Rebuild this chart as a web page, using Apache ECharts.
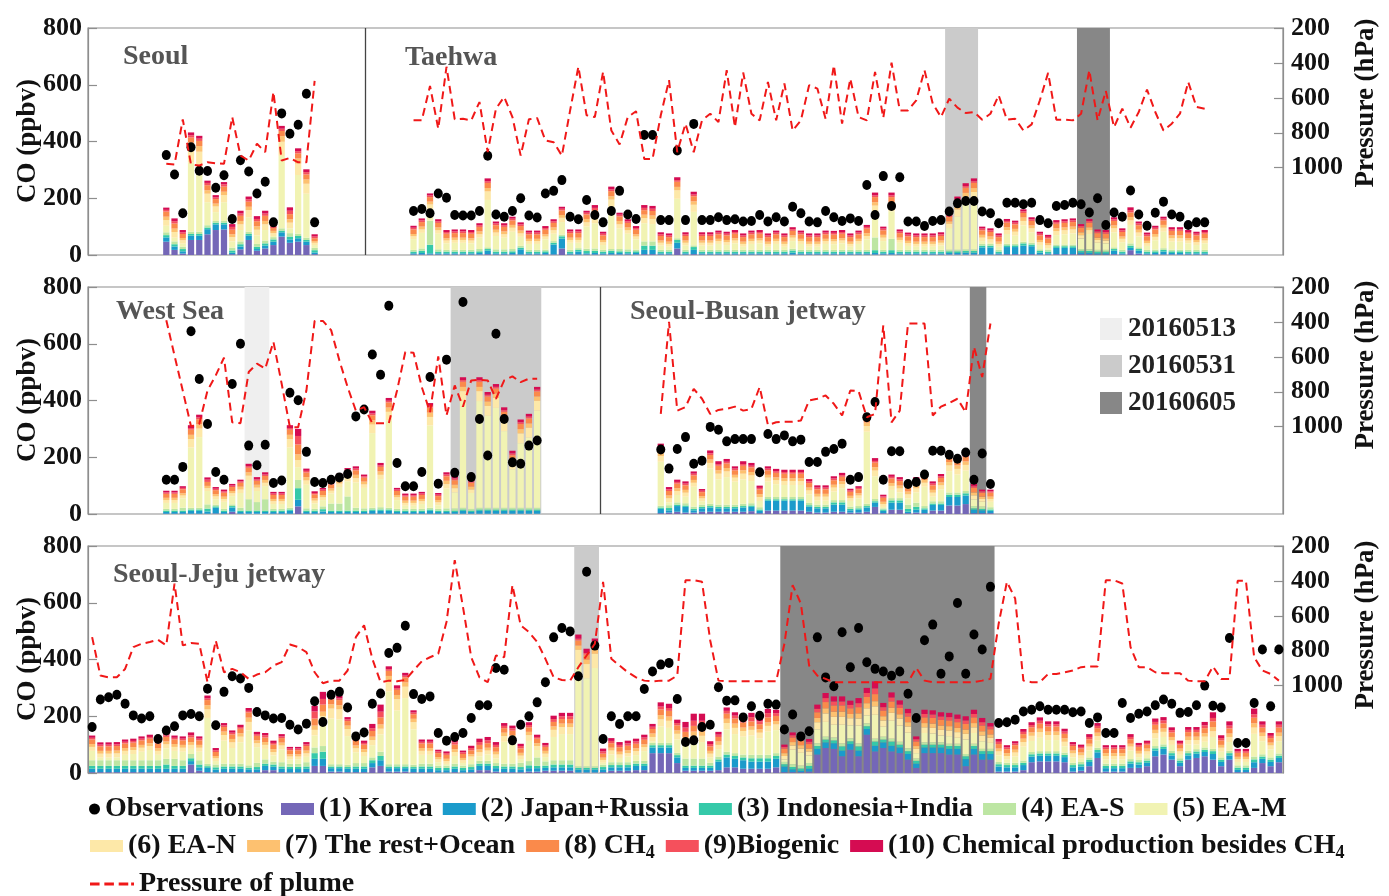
<!DOCTYPE html>
<html><head><meta charset="utf-8">
<script src="https://cdn.jsdelivr.net/npm/echarts@6/dist/echarts.min.js"></script>
<style>html,body{margin:0;padding:0;background:#fff}#c{width:1389px;height:896px}</style>
</head><body><div id="c"></div>
<script>
// ---------------- Source names & colours ----------------
const SOURCE_NAMES = ['(1) Korea','(2) Japan+Russia','(3) Indonesia+India','(4) EA-S','(5) EA-M',
  '(6) EA-N','(7) The rest+Ocean','(8) CH4','(9)Biogenic','(10) Chemical production besides CH4'];
const SOURCE_COLORS = ['#7467b7','#1b9bcb','#35c9a9','#bde6a3','#f1f3b3','#fde8a8','#fdc170','#fa8a4b','#f5505c','#d50c52'];

// ---------------- Seoul (19 samples) ----------------
const seoulK = [47,18,5,53,53,73,88,90,3,20,53,15,23,35,65,43,47,35,3];
const seoulJ = [15,12,8,15,15,18,20,18,5,10,15,6,10,12,15,12,12,12,6];
const seoulI = [8,8,8,6,6,6,6,6,8,8,6,8,8,8,6,10,8,6,8];
const seoulS = [10,10,8,8,8,8,6,6,10,10,8,10,10,8,8,12,8,8,8];
const seoulM = [23,13,11,244,232,81,31,66,22,40,51,30,37,4,255,17,207,155,10];
const seoulN = [20,20,12,50,50,30,20,25,15,20,25,20,20,10,50,20,40,35,8];
const seoulR = [12,12,8,20,20,12,10,12,10,12,12,12,12,8,20,12,18,15,6];
const seoulC = [18,18,14,18,18,18,16,18,16,18,18,18,18,10,18,18,18,18,10];
const seoulB = [6,8,6,8,8,8,6,8,10,8,8,8,8,8,8,12,8,8,6];
const seoulX = [8,10,8,10,10,8,8,8,10,10,10,10,10,6,10,12,10,10,8];
const seoulObs = [352,284,147,380,297,296,237,281,127,334,294,217,258,115,499,427,459,568,115];
const seoulP = [978,982,723,982,988,969,975,978,710,931,959,863,911,566,959,944,969,969,503];

// ---------------- Taehwa (97 samples) ----------------
const taehwaK = [2,2,2,2,2,2,2,2,2,3, 2,2,2,2,2,2,2,2,23,2, 2,2,2,2,2,2,2,2,3,3, 2,2,23,2,3,2,2,2,2,2,
  2,2,2,2,2,2,2,2,2,2, 2,2,2,2,2,2,2,2,2,2, 2,2,2,2,2,2,2,2,2,2, 2,2,3,3,3,3,2,2,3,3, 3,3,3,2,2,3,2,17,5,2, 2,2,2,2,2,2,2];
const taehwaJ = [4,5,4,4,4,4,4,4,5,12, 4,4,5,18,4,4,5,35,35,4, 10,4,5,4,5,5,4,5,15,15, 4,4,20,4,15,4,4,4,4,4,
  4,4,4,4,4,4,6,4,4,4, 4,4,4,4,4,4,5,4,5,4, 4,4,4,4,4,5,5,6,6,25, 25,4,25,25,30,28,6,4,22,22, 22,6,5,4,4,12,4,8,10,4, 5,10,5,5,4,4,4];
const taehwaI = [6,8,30,6,6,6,6,6,6,6, 6,6,6,6,6,6,6,6,8,6, 6,8,8,6,8,6,6,6,15,15, 6,6,10,6,10,6,6,6,6,6,
  6,6,6,6,6,6,8,6,6,6, 6,6,6,6,6,6,10,6,10,6, 6,6,6,6,6,6,6,6,6,6, 6,6,6,6,8,6,6,6,6,6, 6,6,6,6,6,6,6,8,6,6, 6,6,6,6,6,6,6];
const taehwaS = [6,8,85,8,6,6,6,6,8,6, 8,8,8,6,6,6,6,6,6,6, 6,8,8,6,6,8,8,6,15,15, 6,6,6,6,6,6,6,6,6,6,
  6,6,6,6,6,6,6,6,6,6, 6,6,6,6,6,6,45,6,40,6, 6,6,6,6,6,6,6,6,6,6, 6,6,6,6,6,6,6,6,6,6, 6,6,6,6,6,6,6,8,6,6, 6,6,6,6,6,6,6];
const taehwaM = [38,55,42,55,23,25,25,23,40,167, 47,41,61,32,21,21,36,26,44,25, 19,78,89,17,149,72,55,36,64,61, 15,11,139,15,118,15,15,21,17,23,
  11,21,23,11,21,11,27,21,11,11, 21,20,23,11,21,37,92,31,97,25, 14,11,11,11,15,76,116,157,172,10, 4,11,34,28,57,37,15,6,33,36, 39,37,54,25,23,53,27,65,38,14, 33,58,28,28,23,17,23];
const taehwaN = [10,12,15,12,10,10,10,10,12,30, 12,12,14,12,10,10,10,12,15,10, 10,15,18,10,25,15,12,10,18,18, 10,10,30,10,25,10,10,10,10,10,
  10,10,10,10,10,10,12,10,10,10, 10,10,10,10,10,12,20,12,20,10, 10,10,10,10,10,15,25,28,30,12, 12,10,14,14,16,14,10,10,14,14, 14,12,14,10,10,14,12,16,14,10, 12,14,12,12,10,10,10];
const taehwaR = [8,10,10,10,8,8,8,8,10,12, 10,10,10,10,8,8,8,10,10,8, 8,12,12,8,12,12,10,8,12,12, 8,8,12,8,12,8,8,8,8,8,
  8,8,8,8,8,8,8,8,8,8, 8,8,8,8,8,10,12,10,12,8, 8,8,8,8,8,8,12,14,14,10, 10,8,10,10,12,10,8,8,10,10, 10,10,10,8,8,10,8,12,10,8, 10,10,10,10,8,8,8];
const taehwaC = [16,16,16,16,16,16,16,16,16,18, 16,16,16,16,16,16,16,16,16,16, 16,16,16,16,18,16,16,16,16,16, 16,16,18,16,18,16,16,16,16,16,
  16,16,16,16,16,16,16,16,16,16, 16,16,16,16,16,16,18,16,18,16, 16,16,16,16,16,16,18,18,18,16, 16,16,16,16,16,16,16,16,16,16, 16,16,16,16,16,16,16,16,16,16, 16,16,16,16,16,16,16];
const taehwaB = [6,6,6,6,6,6,6,6,6,6, 6,6,6,6,6,6,6,6,6,6, 6,6,8,6,6,6,6,6,8,8, 6,6,6,6,6,6,6,6,6,6,
  6,6,6,6,6,6,6,6,6,6, 6,6,6,6,6,6,6,6,6,6, 6,6,6,6,6,6,6,6,6,6, 6,6,6,6,6,6,6,6,6,6, 6,6,6,6,6,6,6,8,6,6, 6,6,6,6,6,6,6];
const taehwaX = [7,7,7,7,7,7,7,7,7,10, 7,7,7,7,7,7,7,7,7,7, 7,7,10,7,10,7,7,7,10,10, 7,7,10,7,10,7,7,7,7,7,
  7,7,7,7,7,7,7,7,7,7, 7,7,7,7,7,7,10,7,10,7, 7,7,7,7,7,7,10,10,10,7, 7,7,7,7,7,7,7,7,7,7, 7,7,7,7,7,7,7,10,7,7, 7,7,7,7,7,7,7];
const taehwaObs = [155,162,147,217,202,141,139,139,155,350, 143,135,155,200,139,132,217,226,264,135, 126,194,141,115,155,226,143,127,423,423,
  123,123,368,123,462,123,123,133,123,126, 118,120,141,118,133,118,170,147,118,115, 155,133,120,129,120,247,141,278,173,274,
  118,118,102,120,123,153,182,190,190,153, 147,112,184,184,179,184,123,112,173,176, 184,179,150,200,106,150,135,227,143,103, 149,188,143,135,106,115,115];
const taehwaP = [729,729,532,777,422,723,720,729,624,911, 662,595,710,931,723,716,844,854,931,672, 422,700,710,451,787,867,710,677,950,950,
  700,499,911,748,911,729,691,739,442,768, 455,691,729,509,729,518,787,729,528,547, 720,413,748,490,710,729,451,714,399,672,
  672,614,442,633,710,605,656,687,681,725, 691,585,725,720,787,752,614,457,725,725, 729,691,442,729,560,768,662,771,681,553, 681,787,748,691,509,652,662];

// ---------------- West Sea (46 samples) ----------------
const westK = [1,1,1,1,1,1,2,1,8,1, 1,1,1,1,1,1,27,1,1,1, 1,1,1,1,1,1,1,1,1,1, 1,1,1,1,1,1,1,1,1,1, 1,1,1,1,1,1];
const westJ = [6,6,6,10,10,8,20,6,15,6, 6,6,6,6,6,10,23,6,6,8, 6,6,6,6,6,10,10,10,6,6, 6,6,10,6,6,6,10,6,10,10, 10,10,10,10,10,10];
const westI = [5,5,5,5,5,10,5,5,5,5, 5,5,5,5,5,5,41,5,5,8, 5,5,5,5,5,5,5,5,5,5, 5,5,5,5,5,5,5,5,5,5, 5,5,5,5,5,5];
const westS = [6,6,10,6,6,15,6,6,6,10, 40,30,40,6,6,6,29,8,6,10, 25,25,50,10,8,6,8,6,6,6, 6,6,6,6,8,8,6,6,6,6, 6,6,6,6,6,6];
const westM = [21,21,33,212,249,47,19,25,29,52, 68,39,46,17,17,212,45,83,19,22, 35,58,53,89,72,263,99,308,31,11, 11,17,290,13,70,56,376,56,376,324, 352,270,135,227,247,342];
const westN = [10,10,10,30,30,10,10,10,10,12, 15,12,12,10,10,30,25,15,10,10, 10,12,12,15,12,30,15,30,10,10, 10,10,30,10,15,15,35,12,35,35, 35,35,20,35,35,35];
const westR = [8,8,8,15,15,8,8,8,8,10, 12,10,10,8,8,15,20,12,8,8, 8,10,10,12,10,15,12,15,8,8, 8,8,15,8,12,12,15,10,15,15, 15,15,12,15,15,15];
const westC = [14,14,14,18,18,14,14,14,14,14, 16,14,14,14,14,18,35,16,14,14, 14,14,14,16,14,18,16,18,14,14, 14,14,18,14,16,16,18,14,18,18, 18,18,18,18,18,18];
const westB = [5,5,5,6,6,8,5,5,5,5, 6,5,5,5,5,6,30,6,5,5, 5,5,5,6,5,6,6,6,5,5, 5,5,6,5,6,6,6,5,6,6, 6,6,6,6,6,6];
const westX = [6,6,6,10,10,8,6,6,6,6, 8,8,8,6,6,10,25,8,6,6, 6,6,6,8,6,10,8,10,6,6, 6,6,10,6,8,8,10,6,10,10, 10,10,10,10,10,10];
const westObs = [121,121,166,644,476,317,148,121,458,600, 241,172,244,109,118,427,401,219,113,109, 121,129,141,344,368,562,491,734,180,98,
  98,148,483,107,544,145,747,130,335,206, 635,335,182,177,241,259];
const westP = [390,593,794,998,984,793,706,605,975,980, 687,639,668,514,754,1003,1003,793,394,394, 447,620,773,908,888,980,980,980,793,572,
  576,773,917,597,936,764,885,735,731,735, 840,735,712,745,725,725];

// ---------------- Seoul-Busan jetway (41 samples) ----------------
const busanK = [3,5,8,5,5,8,8,8,8,8, 8,10,3,12,12,12,12,12,8,5, 5,8,8,5,5,8,25,3,15,15, 3,5,3,12,12,30,30,35,3,3, 3];
const busanJ = [15,8,20,20,8,12,15,12,12,12, 15,15,8,35,35,35,35,35,18,15, 15,25,25,8,10,15,15,8,25,25, 5,10,12,20,20,30,30,30,12,10, 8];
const busanI = [5,8,5,5,5,5,5,5,5,5, 5,5,5,5,5,5,5,5,5,5, 5,8,8,5,5,5,5,5,8,8, 10,10,5,5,5,8,8,8,5,5, 5];
const busanS = [6,10,8,8,8,8,8,8,8,8, 8,8,8,8,8,8,8,8,8,8, 8,8,8,8,8,8,8,4,8,8, 15,15,8,8,8,8,8,8,8,8, 8];
const busanM = [155,10,26,23,70,12,124,89,97,81, 86,78,22,54,45,42,42,42,30,14, 14,30,42,20,27,254,80,5,29,20, 22,36,68,16,42,75,63,72,24,17, 19];
const busanN = [20,14,14,14,14,10,20,20,20,14, 20,20,14,14,14,14,14,14,14,14, 14,14,14,10,10,20,20,10,14,14, 14,14,14,14,14,20,20,20,14,10, 10];
const busanR = [12,10,10,10,10,8,12,12,12,10, 12,12,10,10,10,10,10,10,10,10, 10,10,10,8,8,12,12,8,10,10, 10,10,10,10,10,12,12,12,10,8, 8];
const busanC = [16,16,16,16,16,14,16,16,16,16, 16,16,16,16,16,16,16,16,16,16, 16,16,16,14,14,16,16,14,16,16, 16,16,16,16,16,16,16,16,16,14, 14];
const busanB = [6,6,6,6,6,5,6,6,6,6, 6,6,6,6,6,6,6,6,6,6, 6,6,6,5,5,6,6,5,6,6, 6,6,6,6,6,6,6,6,6,5, 5];
const busanX = [10,8,8,8,8,6,10,10,10,8, 10,10,8,8,8,8,8,8,8,8, 8,8,8,6,6,10,10,6,8,8, 8,8,8,8,8,10,10,10,8,6, 6];
const busanObs = [227,160,229,271,177,188,307,297,256,264, 264,264,147,282,264,277,256,262,183,183, 219,229,248,121,130,341,395,121,221,221,
  106,113,139,223,223,209,195,217,121,213, 106];
const busanP = [927,399,908,888,783,840,927,904,898,885, 908,898,773,990,975,971,971,965,850,840, 821,869,936,793,796,946,927,419,975,908,
  409,409,409,936,885,865,840,917,543,716, 409];

// ---------------- Seoul-Jeju jetway (145 samples) ----------------
const jejuK = [3,3,3,3,3,3,3,3,3,3, 3,3,30,8,3,2,3,3,3,3, 3,10,10,3,2,2,3,25,25,5, 5,3,3,3,20,25,5,5,5,3, 3,3,2,2,3,2,3,10,10,5,
  3,3,3,5,5,8,8,8,8,2, 2,2,3,8,8,8,10,10,70,70, 70,35,8,8,8,8,10,20,20,15, 15,15,15,20,3,3,3,5,65,88, 85,59,82,59,135,76,88,76,70,47,
  18,70,70,70,65,65,24,65,47,47, 5,5,5,10,38,41,41,41,38,5, 8,24,53,5,5,5,18,18,24,59, 65,47,24,47,53,59,47,24,47,3, 3,18,35,24,38];
const jejuJ = [12,12,12,12,12,12,12,12,12,12, 12,12,12,12,15,10,12,12,12,10, 10,15,12,12,12,12,12,25,25,12, 12,12,12,12,15,20,12,12,12,12, 12,12,8,8,12,8,10,15,15,12,
  12,12,10,12,12,10,12,12,12,10, 10,10,10,12,12,12,15,15,20,20, 20,20,10,10,10,10,30,35,30,30, 25,25,25,30,20,10,5,10,20,20, 20,20,20,20,20,20,20,20,20,20,
  15,20,20,20,20,20,25,20,20,20, 18,15,15,18,20,20,20,20,18,15, 15,15,20,12,12,12,15,12,12,20, 20,15,12,15,15,15,20,15,15,8, 8,20,15,15,15];
const jejuI = [10,10,10,10,10,10,10,10,10,15, 10,10,10,10,6,8,8,8,8,6, 8,8,8,8,8,8,8,20,25,6, 6,6,8,8,10,15,6,6,6,6, 8,8,8,8,8,8,8,8,8,8,
  8,8,8,10,8,8,10,10,10,6, 6,6,8,8,8,8,8,8,8,8, 8,8,8,8,8,8,8,10,10,10, 12,12,12,10,8,8,8,10,10,10, 10,15,10,15,10,15,10,15,10,10,
  10,10,10,10,10,10,10,10,10,10, 8,8,8,8,8,8,8,8,8,8, 8,8,8,8,8,8,8,8,8,8, 8,8,8,8,8,8,10,8,8,8, 8,10,8,8,8];
const jejuS = [20,20,20,20,20,20,20,20,20,20, 25,20,15,15,8,10,10,10,10,8, 15,15,10,15,10,10,15,20,20,8, 8,8,12,12,10,15,8,8,8,8, 10,10,8,8,10,8,10,10,10,10,
  10,10,15,15,30,15,15,15,15,6, 6,6,8,10,10,10,10,10,8,8, 8,8,25,25,25,10,10,10,10,10, 12,12,12,10,8,10,10,10,10,10, 10,10,10,10,10,10,10,10,10,10,
  8,8,8,8,8,8,8,8,8,8, 8,8,8,8,8,8,8,8,8,8, 8,8,8,8,8,8,8,8,8,8, 8,8,8,8,8,8,8,8,8,8, 8,10,8,8,8];
const jejuM = [33,9,9,10,19,22,30,36,19,37, 28,30,18,30,162,12,81,55,75,123, 55,37,22,45,16,16,19,42,86,161, 158,101,38,25,43,61,256,189,233,125, 31,31,12,6,27,9,15,16,22,16,
  77,68,13,71,26,15,82,92,92,360, 310,346,7,27,15,20,20,34,6,58, 53,47,44,58,58,18,26,79,67,63, 68,58,82,81,9,51,45,27,49,52, 45,66,46,63,28,84,35,63,57,55,
  19,33,31,24,27,21,51,38,27,21, 23,12,22,49,39,47,39,39,22,19, 11,24,25,15,15,15,30,10,12,27, 26,21,12,22,16,20,42,20,31,12, 12,80,46,28,43];
const jejuN = [14,14,14,14,14,14,14,14,14,14, 14,14,14,14,30,10,20,20,20,30, 14,14,12,14,10,10,12,20,20,35, 35,25,14,14,18,20,40,40,40,25, 14,14,10,10,14,10,12,14,14,14,
  20,20,12,20,14,12,25,25,25,50, 50,50,10,14,12,12,14,14,15,25, 25,20,20,22,22,14,15,22,22,20, 20,20,20,20,12,15,15,14,25,30, 28,28,25,25,25,30,22,28,25,22,
  15,20,20,20,20,20,20,20,20,18, 14,12,14,16,18,20,18,18,16,14, 12,14,16,12,12,12,14,12,12,18, 18,16,12,16,16,18,20,14,18,10, 10,22,18,14,18];
const jejuR = [10,10,10,10,10,10,10,10,10,10, 10,10,10,10,15,8,12,12,12,15, 10,10,10,10,8,8,10,15,15,15, 15,12,10,10,12,15,15,15,15,12, 10,10,8,8,10,8,8,10,10,10,
  12,12,10,12,10,10,12,12,12,15, 15,15,8,10,10,10,10,10,12,15, 15,12,12,15,15,10,12,15,15,12, 12,12,12,12,10,12,12,10,15,18, 18,18,15,18,18,18,15,18,15,15,
  10,15,15,15,15,15,15,15,15,12, 10,10,10,12,12,12,12,12,12,10, 10,10,12,10,10,10,10,10,10,12, 12,12,10,12,12,12,15,10,12,8, 8,15,12,10,12];
const jejuC = [16,16,16,16,16,16,16,16,16,16, 16,16,16,16,18,14,16,16,16,18, 16,16,16,16,14,14,16,25,25,18, 18,16,16,16,20,25,18,18,18,16, 16,16,14,14,16,14,14,16,16,16,
  16,16,16,16,16,14,16,16,16,18, 18,18,14,16,16,16,16,16,16,20, 20,18,18,20,20,16,16,18,18,18, 18,18,18,18,16,16,16,16,20,22, 22,22,20,22,22,25,20,22,22,20,
  16,20,20,20,20,20,20,20,20,18, 16,14,16,16,18,18,18,18,16,16, 14,16,16,14,14,14,16,14,14,18, 18,16,14,16,16,18,20,16,18,14, 14,20,18,16,18];
const jejuB = [6,6,6,6,6,6,6,6,6,6, 6,6,8,6,6,6,6,6,6,6, 6,8,6,6,6,6,6,25,20,6, 6,6,6,6,10,20,6,6,6,6, 6,6,6,6,8,6,8,10,10,8,
  8,8,8,8,6,6,10,10,10,6, 6,6,8,8,8,8,8,8,8,10, 10,8,15,18,18,8,8,10,10,10, 15,10,15,10,6,8,8,8,12,14, 14,14,12,14,14,20,12,14,12,12,
  8,12,12,12,12,12,12,12,12,10, 8,6,6,8,8,10,8,8,8,6, 6,8,8,6,6,6,8,6,6,10, 10,8,6,8,8,10,12,8,10,6, 6,12,10,8,10];
const jejuX = [8,8,8,8,8,8,8,8,8,8, 8,8,10,8,10,8,8,8,8,10, 8,8,8,8,6,6,8,20,25,10, 10,8,8,8,15,25,10,10,10,8, 8,8,6,6,10,6,8,12,12,10,
  10,10,8,10,8,8,12,12,12,15, 15,15,10,10,10,10,10,10,10,15, 15,12,20,25,25,10,10,12,12,12, 15,12,15,12,8,10,10,10,15,18, 18,18,15,18,18,25,15,18,15,15,
  10,15,15,15,15,15,15,15,15,12, 10,8,8,10,10,12,10,10,10,8, 8,10,10,8,8,8,10,8,8,12, 12,10,8,10,10,12,20,10,15,8, 8,20,12,10,12];
const jejuObs = [162,259,267,276,244,203,192,200,120,150, 165,203,208,200,297,168,286,341,333,300, 215,203,192,194,170,153,174,253,180,276,
  286,231,129,143,244,280,423,441,519,278, 261,270,141,114,127,141,194,239,239,370, 364,115,170,200,249,320,478,511,499,341,
  709,449,120,200,173,200,200,296,358,382, 388,261,109,115,162,170,302,255,256,196, 235,202,244,241,153,206,129,147,478,337,
  306,496,373,511,390,367,358,343,358,279, 194,468,523,350,411,599,350,488,435,656, 176,179,188,217,223,235,223,223,223,214,
  217,176,196,141,141,247,194,209,217,239, 259,244,212,215,239,308,237,231,476,106, 106,247,435,235,435];
const jejuP = [722,942,952,952,904,779,760,750,737,769, 415,769,756,760,980,741,923,904,923,961, 936,923,885,865,764,779,808,923,986,971,
  971,913,722,654,846,980,971,975,967,913, 860,837,817,635,281,549,837,952,980,827, 837,424,654,693,750,846,952,967,971,894,
  827,760,405,846,885,923,952,971,975,971, 971,942,396,396,405,741,971,975,975,975, 975,975,975,975,760,424,530,885,942,961,
  980,980,980,980,980,980,980,980,980,980, 898,971,980,980,980,980,980,980,971,961, 645,405,501,971,980,980,933,933,923,913,
  894,890,890,396,396,415,779,894,894,923, 929,929,929,971,975,975,890,961,961,399, 399,837,913,933,971];

// ---------------- Layout of flight segments in each panel ----------------
const N_SLOTS = 145;
const SLOTS = Array.from({length: N_SLOTS}, (_, i) => 'slot' + (i + 1));
const SEGMENTS = {
  seoul:  {comp:[seoulK,seoulJ,seoulI,seoulS,seoulM,seoulN,seoulR,seoulC,seoulB,seoulX], obs:seoulObs, p:seoulP},
  taehwa: {comp:[taehwaK,taehwaJ,taehwaI,taehwaS,taehwaM,taehwaN,taehwaR,taehwaC,taehwaB,taehwaX], obs:taehwaObs, p:taehwaP},
  west:   {comp:[westK,westJ,westI,westS,westM,westN,westR,westC,westB,westX], obs:westObs, p:westP},
  busan:  {comp:[busanK,busanJ,busanI,busanS,busanM,busanN,busanR,busanC,busanB,busanX], obs:busanObs, p:busanP},
  jeju:   {comp:[jejuK,jejuJ,jejuI,jejuS,jejuM,jejuN,jejuR,jejuC,jejuB,jejuX], obs:jejuObs, p:jejuP}
};
const PANEL_SEGS = [[['seoul',9],['taehwa',39]], [['west',9],['busan',69]], [['jeju',0]]];
const PANEL_TITLES = [[['Seoul',123,57],['Taehwa',405,58]], [['West Sea',116,312],['Seoul-Busan jetway',630,312]], [['Seoul-Jeju jetway',113,575]]];
const DIVIDERS = [[0,33.6],[1,62.1]];
const BANDS = [
  ['taehwa',65,68,'20160531'], ['taehwa',81,84,'20160605'],
  ['west',10,12,'20160513'], ['west',35,45,'20160531'], ['busan',38,39,'20160605'],
  ['jeju',59,61,'20160531'], ['jeju',84,109,'20160605']
];
const DATES = ['20160513','20160531','20160605'];
const DATE_COLORS = {'20160513':'#efefef','20160531':'#cbcbcb','20160605':'#878787'};
const PRESSURE_TICKS = [200,400,600,800,1000];

const FONT = '"Liberation Serif","Times New Roman",serif';
const GRID_TOPS = [28, 287, 546];
const GRID_H = 227;

function segOffset(seg){ for (const ps of PANEL_SEGS) for (const [s,o] of ps) if (s===seg) return o; return 0; }
function panelOf(seg){ return PANEL_SEGS.findIndex(ps => ps.some(([s]) => s===seg)); }
function panelArray(p, getter){
  const out = new Array(N_SLOTS).fill(null);
  for (const [seg, off] of PANEL_SEGS[p]) getter(SEGMENTS[seg]).forEach((v,i)=>{ out[off+i] = v; });
  return out;
}

const grids = [], xAxes = [], yAxes = [], series = [];
for (let p = 0; p < 3; p++) {
  grids.push({left:88, width:1195, top:GRID_TOPS[p], height:GRID_H, show:true, borderColor:'#8e8e8e', borderWidth:1.2, backgroundColor:'rgba(0,0,0,0)'});
}
for (let p = 0; p < 3; p++) xAxes.push({type:'category', gridIndex:p, data:SLOTS, show:false, boundaryGap:true});
for (let p = 0; p < 3; p++) xAxes.push({type:'value', gridIndex:p, min:0, max:N_SLOTS, show:false});
const labelStyle = {fontFamily:FONT, fontWeight:'bold', fontSize:26, color:'#111', formatter: v => String(v)};
for (let p = 0; p < 3; p++) {
  yAxes.push({type:'value', gridIndex:p, position:'left', min:0, max:800, interval:200,
    axisLine:{show:true, lineStyle:{color:'#8e8e8e', width:1.2}},
    axisTick:{show:true, inside:true, length:9, lineStyle:{color:'#8e8e8e', width:1.2}},
    axisLabel:Object.assign({margin:6}, labelStyle), splitLine:{show:false}});
  yAxes.push({type:'value', gridIndex:p, position:'right', inverse:true, min:200, max:1500, interval:200,
    axisLine:{show:true, lineStyle:{color:'#8e8e8e', width:1.2}},
    axisTick:{show:true, inside:true, length:9, lineStyle:{color:'#8e8e8e', width:1.2}, customValues:PRESSURE_TICKS},
    axisLabel:Object.assign({margin:8, customValues:PRESSURE_TICKS}, labelStyle), splitLine:{show:false}});
}

for (let p = 0; p < 3; p++) {
  const areas = BANDS.filter(b => panelOf(b[0]) === p).map(b => {
    const off = segOffset(b[0]);
    return [{xAxis: off + b[1], itemStyle:{color: DATE_COLORS[b[3]], opacity:1}}, {xAxis: off + b[2] + 1}];
  });
  const divs = DIVIDERS.filter(d => d[0] === p).map(d => ({xAxis: d[1]}));
  series.push({type:'line', name:'_bands'+p, xAxisIndex:3+p, yAxisIndex:2*p, data:[], z:1, silent:true,
    markArea:{silent:true, data:areas},
    markLine:{silent:true, symbol:['none','none'], label:{show:false}, lineStyle:{color:'#444', type:'solid', width:1.3}, data:divs}});
  for (let k = 0; k < 10; k++) {
    series.push({type:'bar', name:SOURCE_NAMES[k], xAxisIndex:p, yAxisIndex:2*p, stack:'src'+p,
      barCategoryGap:'24%', itemStyle:{color:SOURCE_COLORS[k]}, z:2,
      data: panelArray(p, s => s.comp[k])});
  }
  series.push({type:'scatter', name:'Observations', xAxisIndex:p, yAxisIndex:2*p, symbol:'circle', symbolSize:[9,10],
    itemStyle:{color:'#000', opacity:1}, z:4, data: panelArray(p, s => s.obs)});
  series.push({type:'line', name:'Pressure of plume', xAxisIndex:p, yAxisIndex:2*p+1, showSymbol:false, symbol:'none',
    connectNulls:false, z:5, lineStyle:{color:'#f01818', width:2, type:[8,5]}, itemStyle:{color:'#f01818'},
    data: panelArray(p, s => s.p)});
}

const legendText = {fontFamily:FONT, fontWeight:'bold', fontSize:28, color:'#111',
  rich:{sub:{fontFamily:FONT, fontWeight:'bold', fontSize:18, color:'#111', padding:[15,0,0,0]}}};
const fmt = n => n.replace('CH4', 'CH{sub|4}');
const DASH_ICON = 'path://M0,0h10v3h-10zM15,0h10v3h-10zM30,0h10v3h-10zM43,0h3v3h-3z';
const legends = [
  {left:84, top:790, itemWidth:11, itemHeight:11, itemGap:8, selectedMode:false, textStyle:legendText,
    data:[{name:'Observations', icon:'circle'}]},
  {left:276, top:790, itemWidth:33, itemHeight:12, itemGap:10, selectedMode:false, textStyle:legendText, formatter:fmt,
    data:SOURCE_NAMES.slice(0,5).map(n => ({name:n, icon:'rect'}))},
  {left:85, top:827, itemWidth:33, itemHeight:12, itemGap:11, selectedMode:false, textStyle:legendText, formatter:fmt,
    data:SOURCE_NAMES.slice(5).map(n => ({name:n, icon:'rect'}))},
  {left:85, top:865, itemWidth:44, itemHeight:3, selectedMode:false, textStyle:legendText,
    data:[{name:'Pressure of plume', icon:DASH_ICON, itemStyle:{color:'#f01818'}}]}
];

const graphics = [];
PANEL_TITLES.forEach(ts => ts.forEach(([t,x,y]) => graphics.push({type:'text', x, y, z:50,
  style:{text:t, fill:'#555', font:'bold 28px '+FONT, textAlign:'left', textVerticalAlign:'middle'}})));
const coCenters = [141, 400, 659], prCenters = [103, 365, 625];
for (let p = 0; p < 3; p++) {
  graphics.push({type:'text', x:28, y:coCenters[p], rotation:Math.PI/2, z:50,
    style:{text:'CO (ppbv)', fill:'#111', font:'bold 27px '+FONT, textAlign:'center', textVerticalAlign:'middle'}});
  graphics.push({type:'text', x:1366, y:prCenters[p], rotation:Math.PI/2, z:50,
    style:{text:'Pressure (hPa)', fill:'#111', font:'bold 27px '+FONT, textAlign:'center', textVerticalAlign:'middle'}});
}
DATES.forEach((d, i) => {
  const y = 318 + i * 37;
  graphics.push({type:'rect', x:1100, y:y, shape:{width:22, height:22}, z:50, style:{fill:DATE_COLORS[d]}});
  graphics.push({type:'text', x:1128, y:y+11, z:50, style:{text:d, fill:'#222', font:'bold 27px '+FONT, textAlign:'left', textVerticalAlign:'middle'}});
});

const chart = echarts.init(document.getElementById('c'), null, {renderer:'canvas'});
chart.setOption({
  animation:false, backgroundColor:'#fff',
  textStyle:{fontFamily:FONT},
  grid:grids, xAxis:xAxes, yAxis:yAxes, series, legend:legends, graphic:graphics
});
</script></body></html>
